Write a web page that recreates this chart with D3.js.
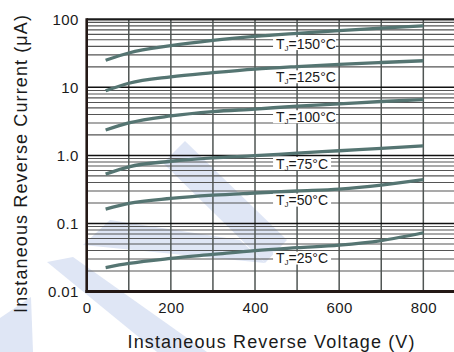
<!DOCTYPE html>
<html>
<head>
<meta charset="utf-8">
<script src="https://cdn.jsdelivr.net/npm/d3@7"></script>
<style>
  body { margin: 0; background: #fff; }
  svg { display: block; font-family: "Liberation Sans", Arial, sans-serif; }
</style>
</head>
<body>
<svg id="chart" width="454" height="352"></svg>
<script>
var voltages = [45, 100, 200, 300, 400, 500, 600, 700, 800];
var temps = ["150", "125", "100", "75", "50", "25"];
var i150 = [25, 32, 41, 49, 56, 62, 68, 74, 80];
var i125 = [8.9, 11.5, 14.3, 16.4, 18.5, 20.2, 21.8, 23.2, 24.6];
var i100 = [2.36, 3.0, 3.8, 4.4, 4.8, 5.3, 5.7, 6.2, 6.6];
var i75 = [0.53, 0.68, 0.82, 0.92, 0.99, 1.08, 1.17, 1.27, 1.38];
var i50 = [0.162, 0.197, 0.233, 0.26, 0.28, 0.30, 0.32, 0.365, 0.44];
var i25 = [0.0225, 0.0258, 0.0306, 0.035, 0.040, 0.044, 0.048, 0.056, 0.073];
var series = [i150, i125, i100, i75, i50, i25];
// where the T_J labels sit (V, uA)
var labelV = 450;
var labelI = [44, 14.3, 3.7, 0.76, 0.22, 0.031];

var xTicks = [0, 200, 400, 600, 800];
var yTicks = [0.01, 0.1, 1, 10, 100];
var yTickLabels = ["0.01", "0.1", "1.0", "10", "100"];

var W = 454, H = 352;
var x = d3.scaleLinear().domain([0, 900]).range([86.7, 465.4]);
var y = d3.scaleLog().domain([0.01, 100]).range([291.5, 19.3]);

var svg = d3.select("#chart");

// faint logo watermark behind everything
var wm = [
  [[185,141],[287,240],[265,263],[163,163]],
  [[83,245],[110,220],[240,240],[265,263]],
  [[47,262],[73,257],[207,352],[157,352]],
  [[0,318],[31,297],[33,352],[0,352]]
];
svg.append("g").selectAll("path").data(wm).enter().append("path")
  .attr("d", function(p) { return "M" + p.join("L") + "Z"; })
  .attr("fill", "#dfe6f5");

svg.append("clipPath").attr("id", "plot")
  .append("rect").attr("x", 86).attr("y", 18).attr("width", W - 86).attr("height", 275);

var grid = svg.append("g").attr("clip-path", "url(#plot)");

// minor horizontal lines
var minor = [];
[0.01, 0.1, 1, 10].forEach(function(d) {
  for (var k = 2; k < 10; k++) minor.push(d * k);
});
grid.selectAll(".hmin").data(minor).enter().append("line")
  .attr("x1", x(0)).attr("x2", W)
  .attr("y1", function(d) { return y(d); }).attr("y2", function(d) { return y(d); })
  .attr("stroke", "#555").attr("stroke-width", 1.1);

// vertical grid every 100 V
grid.selectAll(".vg").data(d3.range(100, 901, 100)).enter().append("line")
  .attr("x1", function(d) { return x(d); }).attr("x2", function(d) { return x(d); })
  .attr("y1", y(100)).attr("y2", y(0.01))
  .attr("stroke", "#4f5553").attr("stroke-width", 1.5);

// decade lines
grid.selectAll(".hmaj").data([0.1, 1, 10]).enter().append("line")
  .attr("x1", x(0)).attr("x2", W)
  .attr("y1", function(d) { return y(d); }).attr("y2", function(d) { return y(d); })
  .attr("stroke", "#111").attr("stroke-width", 1.5);

// frame: top, left, bottom
grid.append("line").attr("x1", x(0)).attr("x2", W).attr("y1", y(100)).attr("y2", y(100))
  .attr("stroke", "#1a1a1a").attr("stroke-width", 2.2);
svg.append("line").attr("x1", x(0)).attr("x2", x(0)).attr("y1", y(100) - 1).attr("y2", y(0.01) + 1.5)
  .attr("stroke", "#231815").attr("stroke-width", 2.6);
svg.append("line").attr("x1", x(0) - 1.3).attr("x2", W).attr("y1", y(0.01)).attr("y2", y(0.01))
  .attr("stroke", "#231815").attr("stroke-width", 2.8);

// curves
var line = d3.line()
  .x(function(d, k) { return x(voltages[k]); })
  .y(function(d) { return y(d); })
  .curve(d3.curveMonotoneX);

grid.selectAll(".curve").data(series).enter().append("path")
  .attr("d", line)
  .attr("fill", "none")
  .attr("stroke", "#557572")
  .attr("stroke-width", 3.3)
  .attr("stroke-linecap", "butt");

// T_J labels with white boxes
var lab = svg.selectAll(".lab").data(temps).enter().append("g")
  .attr("transform", function(d, k) { return "translate(" + x(labelV) + "," + y(labelI[k]) + ")"; });
lab.append("rect")
  .attr("x", -3).attr("y", -6.5).attr("height", 13)
  .attr("width", function(d) { return d.length == 3 ? 63 : 58; })
  .attr("fill", "#fff");
var lt = lab.append("text").attr("x", 0).attr("y", 5)
  .attr("font-size", 14).attr("fill", "#1a1a1a");
lt.append("tspan").text("T");
lt.append("tspan").attr("font-size", 8).attr("dy", 2).text("J");
lt.append("tspan").attr("dy", -2).text(function(d) { return "=" + d + "°C"; });

// axes (labels only)
var yAxis = d3.axisLeft(y).tickValues(yTicks).tickSize(0).tickPadding(8)
  .tickFormat(function(d, k) { return yTickLabels[k]; });
var ga = svg.append("g").attr("transform", "translate(" + x(0) + ",0)").call(yAxis);
var xAxis = d3.axisBottom(x).tickValues(xTicks).tickSize(0).tickPadding(11)
  .tickFormat(function(d) { return d; });
var gb = svg.append("g").attr("transform", "translate(0," + y(0.01) + ")").call(xAxis);
[ga, gb].forEach(function(g) {
  g.select(".domain").remove();
  g.selectAll("text").attr("font-size", 15).attr("fill", "#1a1a1a")
    .attr("font-family", "Liberation Sans, Arial, sans-serif")
    .style("letter-spacing", "0.4px");
});

// titles
svg.append("text")
  .attr("x", 271).attr("y", 348)
  .attr("text-anchor", "middle")
  .attr("font-size", 18).attr("fill", "#1a1a1a")
  .attr("textLength", 287).attr("lengthAdjust", "spacing")
  .text("Instaneous Reverse Voltage (V)");
svg.append("text")
  .attr("transform", "translate(27,164) rotate(-90)")
  .attr("text-anchor", "middle")
  .attr("font-size", 18).attr("fill", "#1a1a1a")
  .attr("textLength", 298).attr("lengthAdjust", "spacing")
  .text("Instaneous Reverse Current (μA)");
</script>
</body>
</html>
